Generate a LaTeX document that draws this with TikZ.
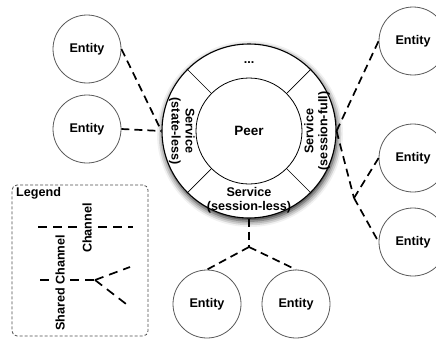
\documentclass[tikz,border=0pt]{standalone}
\usepackage{fontspec}
\setmainfont{Liberation Sans}
\usetikzlibrary{shadows.blur}
\begin{document}
\begin{tikzpicture}[x=1pt,y=-1pt,
  lbl/.style={font=\bfseries\fontsize{12.6}{14}\selectfont, align=center, inner sep=1pt},
  entity/.style={circle, draw=black!65, line width=0.8pt, minimum size=68pt,
    inner sep=0pt, fill=white, font=\bfseries\fontsize{12.6}{14}\selectfont},
  chan/.style={line width=1.7pt, dash pattern=on 8pt off 5pt},
  legchan/.style={line width=1.7pt, dash pattern=on 9pt off 6pt},
]
\useasboundingbox (0,0) rectangle (436,340);

% peer with its ring of services
\node[circle, draw, line width=1.1pt, minimum size=174pt, inner sep=0pt, fill=white,
  blur shadow={shadow xshift=1pt, shadow yshift=-3pt, shadow blur radius=6pt,
  shadow opacity=90}] (ring) at (249,131) {};
\node[circle, draw, line width=0.8pt, minimum size=106pt, inner sep=0pt,
  font=\bfseries\fontsize{13.5}{15}\selectfont] (peer) at (249,131) {Peer};
\foreach \a in {45,135,225,315}
  \draw[line width=0.7pt] (peer.\a) -- (ring.\a);
\node[lbl] (sdots) at (249,63) {...};
\node[lbl, rotate=-90] (sleft) at (182,131) {Service\\(state-less)};
\node[lbl, rotate=90] (sright) at (317,131) {Service\\(session-full)};
\node[lbl] (sbottom) at (249,200) {Service\\(session-less)};

% entities
\node[entity] (eL1) at (87,49) {Entity};
\node[entity] (eL2) at (87,129) {Entity};
\node[entity] (eR1) at (413,41) {Entity};
\node[entity] (eR2) at (413,158) {Entity};
\node[entity] (eR3) at (413,242) {Entity};
\node[entity] (eB1) at (207,304) {Entity};
\node[entity] (eB2) at (296,304) {Entity};

% channels
\draw[chan] (eL1.east) -- (ring.west);
\draw[chan] (eL2.east) -- (ring.west);
\draw[chan] (ring.east) -- (eR1.west);
\coordinate (jR) at (354,198);
\draw[chan] (ring.east) -- (jR);
\draw[chan] (jR) -- (eR2.west);
\draw[chan] (jR) -- (eR3.west);
\coordinate (jB) at (249,247);
\draw[chan] (ring.south) -- (jB);
\draw[chan] (jB) -- (eB1.north);
\draw[chan] (jB) -- (eB2.north);

% legend
\node[draw=black!70, line width=0.8pt, dash pattern=on 3pt off 2pt, rounded corners=5pt,
  minimum width=136pt, minimum height=151pt, inner sep=0pt] (legend) at (80,260.5) {};
\node[lbl, anchor=west] (legtitle) at (15,193) {Legend};
\coordinate (c1a) at (38,227);
\coordinate (c1b) at (133,227);
\draw[legchan] (c1a) -- (c1b);
\node[lbl, rotate=90, fill=white] (chanlbl) at (87,228) {Channel};
\coordinate (s1) at (40,280);
\coordinate (sj) at (95,280);
\coordinate (s2) at (130,267);
\coordinate (s3) at (130,307);
\draw[legchan] (s1) -- (sj);
\draw[legchan] (sj) -- (s2);
\draw[legchan] (sj) -- (s3);
\node[lbl, rotate=90, fill=white] (shlbl) at (60,283) {Shared Channel};
\end{tikzpicture}
\end{document}
